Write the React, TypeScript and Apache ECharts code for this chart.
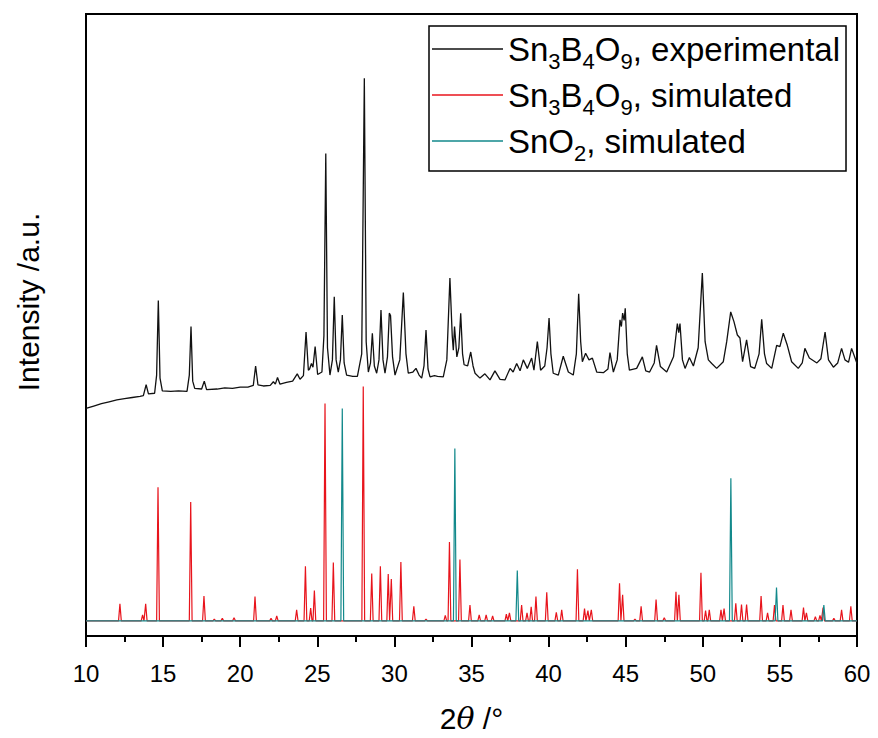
import React, { useEffect, useRef } from "react";
import * as echarts from "echarts";

// Experimental pattern: [2θ (°), intensity (a.u., offset)]
const experimental: [number, number][] = [
  [10.0, 35.0], [10.5, 35.4], [11.0, 35.8], [11.5, 36.1], [12.0, 36.4], [12.5, 36.6],
  [13.0, 36.8], [13.5, 37.0], [13.72, 37.1], [13.9, 38.9], [14.05, 37.4], [14.45, 37.5],
  [14.58, 40.5], [14.69, 52.8], [14.8, 40.0], [14.95, 37.9], [15.5, 37.8], [16.0, 37.9],
  [16.55, 37.8], [16.7, 40.5], [16.81, 48.5], [16.92, 39.5], [17.05, 38.3], [17.5, 38.2],
  [17.67, 39.5], [17.82, 38.1], [18.5, 38.2], [19.0, 38.4], [19.5, 38.3], [20.0, 38.5],
  [20.5, 38.5], [20.85, 38.8], [21.0, 42.0], [21.15, 38.9], [21.5, 38.7], [21.95, 38.8],
  [22.15, 39.4], [22.28, 39.0], [22.42, 40.1], [22.58, 39.0], [23.0, 39.3], [23.4, 39.5],
  [23.7, 40.7], [23.88, 39.8], [24.1, 40.4], [24.27, 47.6], [24.42, 41.3], [24.5, 41.5],
  [24.62, 42.4], [24.72, 41.8], [24.86, 45.2], [25.02, 40.6], [25.3, 41.0], [25.43, 47.0],
  [25.55, 77.0], [25.66, 45.0], [25.82, 40.5], [25.98, 43.0], [26.1, 53.4], [26.22, 43.0],
  [26.36, 41.0], [26.5, 43.0], [26.62, 50.4], [26.74, 42.5], [26.9, 40.5], [27.3, 40.3],
  [27.6, 40.3], [27.88, 44.0], [28.05, 89.4], [28.17, 46.0], [28.31, 41.0], [28.45, 42.5],
  [28.57, 47.4], [28.7, 42.0], [28.85, 40.8], [29.0, 43.0], [29.13, 51.2], [29.26, 43.0],
  [29.39, 40.8], [29.55, 43.5], [29.67, 50.7], [29.75, 50.3], [29.88, 43.5], [30.04, 40.5],
  [30.35, 43.0], [30.58, 54.1], [30.75, 44.0], [30.9, 40.8], [31.2, 41.0], [31.4, 41.6],
  [31.6, 40.5], [31.77, 40.0], [31.92, 42.0], [32.05, 47.9], [32.18, 41.5], [32.31, 40.2],
  [32.6, 40.4], [32.8, 40.3], [33.17, 40.2], [33.4, 43.0], [33.6, 56.5], [33.75, 47.0],
  [33.82, 44.6], [33.9, 48.5], [34.05, 43.5], [34.18, 45.0], [34.3, 50.7], [34.42, 44.0],
  [34.52, 42.2], [34.75, 42.0], [34.95, 44.3], [35.1, 42.0], [35.23, 40.8], [35.55, 40.0],
  [35.87, 40.7], [36.2, 39.7], [36.52, 41.2], [36.85, 39.8], [37.17, 39.7], [37.5, 41.6],
  [37.7, 41.0], [37.93, 42.4], [38.15, 41.2], [38.36, 43.0], [38.62, 41.6], [38.9, 43.3],
  [39.05, 41.3], [39.27, 46.0], [39.48, 41.3], [39.75, 42.0], [39.9, 45.0], [40.03, 49.9],
  [40.15, 44.0], [40.3, 40.8], [40.63, 40.5], [40.95, 43.6], [41.28, 41.0], [41.6, 40.5],
  [41.8, 44.0], [41.95, 53.9], [42.08, 46.0], [42.19, 42.7], [42.4, 44.1], [42.62, 43.0],
  [42.84, 43.3], [43.12, 41.0], [43.55, 40.9], [43.85, 41.5], [43.98, 44.2], [44.2, 41.0],
  [44.45, 43.0], [44.63, 49.6], [44.72, 48.5], [44.8, 50.7], [44.9, 49.5], [44.97, 51.5],
  [45.1, 44.0], [45.24, 41.3], [45.71, 41.6], [46.08, 43.5], [46.3, 41.2], [46.55, 41.0],
  [46.85, 42.5], [47.0, 45.4], [47.25, 41.9], [47.66, 41.0], [48.1, 43.5], [48.35, 49.0],
  [48.44, 47.5], [48.52, 49.0], [48.68, 43.0], [48.85, 41.6], [49.13, 43.4], [49.39, 42.0],
  [49.7, 45.0], [49.97, 57.3], [50.15, 46.0], [50.36, 43.0], [50.58, 42.4], [50.9, 41.6],
  [51.33, 42.7], [51.55, 46.0], [51.81, 50.9], [52.02, 49.3], [52.24, 47.1], [52.41, 46.6],
  [52.58, 42.7], [52.84, 46.3], [53.1, 41.9], [53.37, 41.6], [53.65, 44.0], [53.82, 49.7],
  [54.0, 44.0], [54.14, 42.4], [54.47, 41.6], [54.79, 45.4], [55.0, 45.2], [55.22, 47.4],
  [55.48, 45.4], [55.76, 42.7], [56.19, 41.6], [56.45, 42.5], [56.62, 44.9], [56.91, 43.3],
  [57.4, 42.5], [57.66, 43.2], [57.93, 47.6], [58.15, 43.0], [58.47, 41.8], [58.75, 42.5],
  [59.0, 44.9], [59.22, 43.0], [59.45, 42.6], [59.65, 44.9], [60.0, 42.4],
];

// Simulated Sn3B4O9 reflections: [2θ (°), intensity]
const sn3b4o9Peaks: [number, number][] = [
  [12.2, 2.8], [13.67, 1.0], [13.87, 2.8], [14.67, 22.0], [16.79, 19.6], [17.65, 4.1],
  [18.32, 0.3], [18.84, 0.4], [19.6, 0.5], [20.96, 4.0], [22.0, 0.4], [22.37, 0.8],
  [23.66, 1.8], [24.23, 9.0], [24.57, 2.1], [24.81, 5.0], [25.5, 35.8], [26.04, 9.6],
  [27.98, 38.6], [28.53, 7.8], [29.09, 9.0], [29.6, 7.7], [29.8, 6.9], [30.42, 9.7],
  [31.26, 2.4], [32.05, 0.3], [33.3, 0.9], [33.57, 13.0], [34.25, 10.1], [34.9, 2.6],
  [35.5, 1.0], [35.95, 1.0], [36.37, 0.8], [37.26, 1.1], [37.46, 1.3], [38.25, 2.6],
  [38.6, 1.3], [38.87, 2.3], [39.18, 4.0], [39.88, 4.7], [40.5, 1.4], [40.85, 1.8],
  [41.87, 8.5], [42.33, 2.0], [42.55, 1.7], [42.77, 1.8], [44.6, 6.2], [44.8, 4.3],
  [45.6, 0.3], [46.0, 2.4], [46.97, 3.5], [47.5, 0.5], [48.26, 4.8], [48.45, 4.3],
  [49.88, 7.9], [50.18, 1.7], [50.42, 1.8], [51.18, 1.8], [51.38, 2.0], [52.14, 2.9],
  [52.51, 2.7], [52.84, 2.7], [53.78, 4.1], [54.2, 1.3], [54.65, 2.6], [55.2, 2.6],
  [55.72, 1.8], [56.53, 2.2], [56.72, 1.3], [57.3, 0.7], [57.6, 0.9], [57.8, 2.2],
  [58.5, 0.4], [59.0, 1.8], [59.6, 2.4],
];

// Simulated SnO2 reflections: [2θ (°), intensity]
const sno2Peaks: [number, number][] = [
  [26.62, 35.0], [33.92, 28.4], [37.97, 8.3], [51.82, 23.5], [54.78, 5.5], [57.85, 2.6],
];

const xTicks = [10, 15, 20, 25, 30, 35, 40, 45, 50, 55, 60];

const NAME_EXP = "Sn3B4O9, experimental";
const NAME_SIM = "Sn3B4O9, simulated";
const NAME_SNO2 = "SnO2, simulated";

const FONT = "'Liberation Sans', Arial, Helvetica, sans-serif";
const PEAK_HALF_WIDTH = 0.09;

function sticks(peaks: [number, number][]): [number, number][] {
  const pts: [number, number][] = [[xTicks[0], 0]];
  for (const [p, h] of peaks) {
    pts.push([p - PEAK_HALF_WIDTH, 0], [p, h], [p + PEAK_HALF_WIDTH, 0]);
  }
  pts.push([xTicks[xTicks.length - 1], 0]);
  return pts;
}

const legendRich: Record<string, string> = {
  [NAME_EXP]: "{m|Sn}{s|3}{m|B}{s|4}{m|O}{s|9}{m|, experimental}",
  [NAME_SIM]: "{m|Sn}{s|3}{m|B}{s|4}{m|O}{s|9}{m|, simulated}",
  [NAME_SNO2]: "{m|SnO}{s|2}{m|, simulated}",
};

export default function App() {
  const ref = useRef<HTMLDivElement>(null);
  useEffect(() => {
    if (!ref.current) return;
    const chart = echarts.init(ref.current, undefined, { renderer: "svg" });
    chart.setOption({
      animation: false,
      backgroundColor: "#fff",
      grid: {
        left: 86, right: 21, top: 14, bottom: 102,
        show: true, borderColor: "#000", borderWidth: 2, backgroundColor: "transparent",
      },
      xAxis: {
        type: "value",
        min: xTicks[0],
        max: xTicks[xTicks.length - 1],
        interval: 5,
        axisLine: { show: true, onZero: false, lineStyle: { color: "#000", width: 2 } },
        axisTick: { show: true, inside: false, length: 11, lineStyle: { color: "#000", width: 2 } },
        minorTick: { show: true, splitNumber: 2, length: 6, lineStyle: { color: "#000", width: 2 } },
        splitLine: { show: false },
        minorSplitLine: { show: false },
        axisLabel: { margin: 25, color: "#000", fontSize: 24, fontFamily: FONT },
        name: "{n|2}{i|θ}{n| /°}",
        nameLocation: "middle",
        nameGap: 67,
        nameTextStyle: {
          rich: {
            n: { fontSize: 30, fontFamily: FONT, color: "#000" },
            i: { fontSize: 30, fontFamily: "'DejaVu Serif', serif", fontStyle: "italic", color: "#000" },
          },
        },
      },
      yAxis: {
        type: "value",
        min: -2.5,
        max: 100,
        axisLine: { show: false, onZero: false },
        axisTick: { show: false },
        axisLabel: { show: false },
        splitLine: { show: false },
      },
      legend: {
        orient: "vertical",
        left: 429,
        top: 26,
        padding: [0, 6, 7, 3],
        itemGap: 0,
        itemWidth: 71,
        itemHeight: 1.5,
        icon: "rect",
        borderColor: "#000",
        borderWidth: 1.5,
        backgroundColor: "#fff",
        data: [NAME_EXP, NAME_SIM, NAME_SNO2],
        formatter: (name: string) => legendRich[name] || name,
        textStyle: {
          rich: {
            m: { fontSize: 33, lineHeight: 36, fontFamily: FONT, color: "#000" },
            s: { fontSize: 22, lineHeight: 10, padding: [24, 0, 0, 0], fontFamily: FONT, color: "#000" },
          },
        },
      },
      graphic: [
        {
          type: "text",
          x: 28,
          y: 302,
          rotation: Math.PI / 2,
          style: {
            text: "Intensity /a.u.",
            fontSize: 30,
            fontFamily: FONT,
            fill: "#000",
            textAlign: "center",
            textVerticalAlign: "middle",
          },
        },
      ],
      series: [
        {
          name: NAME_EXP,
          type: "line",
          data: experimental,
          symbol: "none",
          lineStyle: { color: "#111", width: 1.3 },
          itemStyle: { color: "#111" },
        },
        {
          name: NAME_SIM,
          type: "line",
          data: sticks(sn3b4o9Peaks),
          symbol: "none",
          lineStyle: { color: "#e8141c", width: 1.2 },
          itemStyle: { color: "#e8141c" },
        },
        {
          name: NAME_SNO2,
          type: "line",
          data: sticks(sno2Peaks),
          symbol: "none",
          lineStyle: { color: "#12898b", width: 1.2 },
          itemStyle: { color: "#12898b" },
        },
      ],
    });
    return () => chart.dispose();
  }, []);
  return <div ref={ref} style={{ width: 878, height: 738, position: "absolute", left: 0, top: 0 }} />;
}
